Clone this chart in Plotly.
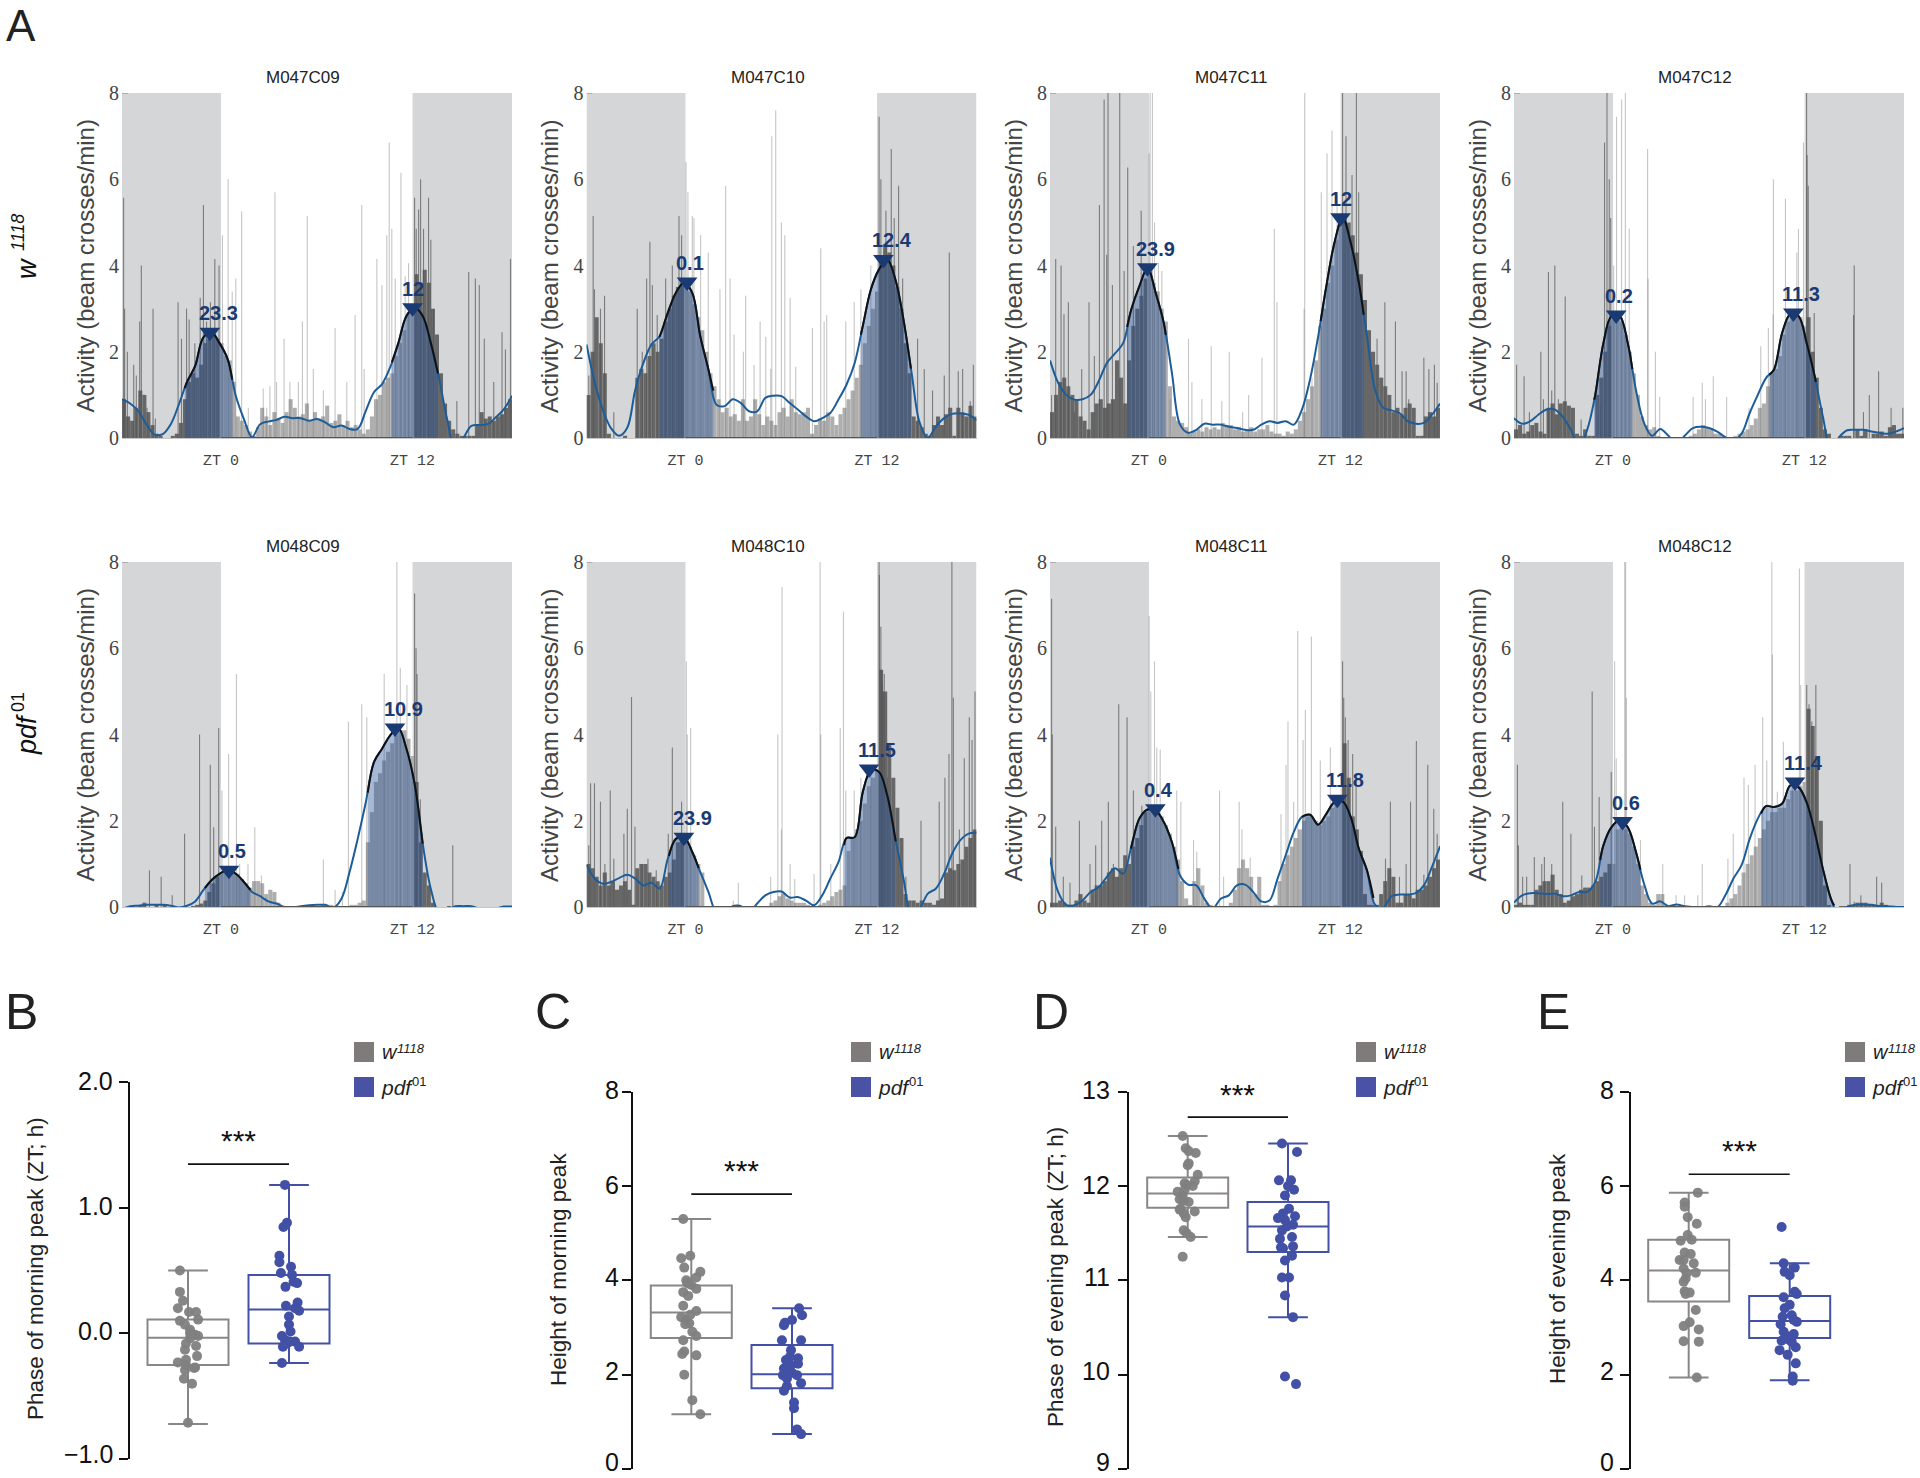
import plotly.graph_objects as go

# ---------- Panel A: activity panels ----------
panel_names = ["M047C09", "M047C10", "M047C11", "M047C12", "M048C09", "M048C10", "M048C11", "M048C12"]
peak_labels = [["23.3", "12"], ["0.1", "12.4"], ["23.9", "12"], ["0.2", "11.3"],
               ["0.5", "10.9"], ["23.9", "11.5"], ["0.4", "11.8"], ["0.6", "11.4"]]
peak_hours = [[-0.7, 12], [0.1, 12.4], [-0.1, 12], [0.2, 11.3], [0.5, 10.9], [-0.1, 11.5], [0.4, 11.8], [0.6, 11.4]]
peak_heights = [[2.45, 3.02], [3.62, 4.14], [3.95, 5.11], [2.85, 2.9], [0.85, 4.15], [1.62, 3.2], [2.28, 2.5], [1.98, 2.9]]
peak_windows = [[[-2.14, 0.78], [10.6, 13.44]], [[-1.54, 1.8], [10.88, 13.96]], [[-1.26, 1.12], [10.65, 13.3]],
                [[-1.07, 1.28], [9.7, 12.57]], [[-0.9, 1.9], [9.12, 12.5]], [[-0.93, 0.9], [9.85, 13.03]],
                [[-1.03, 1.9], [9.5, 13.9]], [[-0.7, 1.78], [9.2, 13.7]]]

hours = [h / 2 for h in range(-12, 37)]
mass_hours = [k / 4 + 0.125 for k in range(-24, 72)]
x_range = [-6.2, 18.23]

curves = [
 [.9,.8,.63,.32,.08,.09,.32,.78,1.3,1.67,2.33,2.45,2.2,1.83,.98,.44,.02,.32,.38,.42,.49,.46,.46,.4,.44,.36,.25,.29,.21,.21,.63,1.06,1.25,1.64,2.2,2.83,3.02,2.83,2.2,1.4,.44,-.25,0,.28,.3,.32,.48,.67,.98],
 [2.17,1.3,.66,.23,.05,.23,1.12,1.74,2.17,2.36,2.9,3.37,3.6,3.37,2.36,1.59,.77,.74,.9,.81,.62,.62,.93,.98,.97,.81,.66,.5,.39,.46,.58,.89,1.24,1.74,2.6,3.45,3.91,4.14,3.68,2.75,1.51,.35,0,.27,.46,.56,.57,.54,.41],
 [1.8,1.28,1,.89,.9,1,1.32,1.74,1.96,2.2,2.98,3.52,3.95,3.37,2.67,1.51,.31,.12,.19,.33,.31,.31,.26,.23,.19,.19,.31,.39,.35,.39,.31,.66,1.36,2.36,3.52,4.53,5.11,4.53,3.6,2.36,1.12,.7,.64,.58,.39,.33,.35,.54,.8],
 [.46,.33,.39,.54,.66,.66,.49,.19,-.2,.19,1,2.2,2.83,2.83,2.2,1.12,.35,.05,.21,.05,-.12,.05,.23,.26,.23,.15,.02,-.06,.1,.58,1,1.39,1.59,2.44,2.87,2.83,2.21,1.43,.5,-.27,.02,.18,.19,.19,.15,.12,.1,.15,.23],
 [-.05,.02,.03,.05,.05,.05,.03,-.01,.03,.13,.39,.62,.77,.85,.77,.58,.35,.25,.13,.08,0,-.01,.02,.04,.05,.05,-.02,.19,.81,1.58,2.43,3.36,3.67,3.98,4.15,3.67,2.86,1.47,.42,-.12,-.08,.02,.02,.02,-.04,-.08,-.04,.01,.01],
 [.98,.66,.54,.58,.67,.75,.66,.5,.56,.43,1.12,1.58,1.62,1.28,.81,.35,-.12,-.08,.02,.02,-.12,.08,.27,.35,.36,.22,.23,.15,.04,.27,.66,1.04,1.6,1.62,2.67,3.17,3.13,2.59,1.58,.66,-.19,-.04,.31,.43,.77,1.24,1.55,1.7,1.72],
 [1.14,.35,.05,.04,.15,.35,.46,.7,.9,.77,1.39,2.05,2.26,2.24,1.97,1.5,.73,.52,.5,.19,-.04,.19,.27,.5,.52,.35,.13,.15,.66,1.2,1.74,2.09,2.14,1.91,2.16,2.43,2.45,2.09,1.35,.85,.05,-.02,.25,.29,.29,.32,.5,.93,1.41],
 [.1,.27,.32,.32,.3,.31,.25,.27,.35,.35,.58,1.43,1.85,2.01,1.85,1.28,.54,.08,.13,.02,.06,.02,0,-.02,.02,-.01,.27,.66,.97,1.58,2.05,2.34,2.32,2.4,2.82,2.78,2.43,1.74,.89,.19,-.2,0,.05,.06,.05,.02,.02,0,0],
]

# dense activity per quarter hour, -6 h to 18 h
masses = [
 [.9,.5,.4,.7,1.1,1.0,.6,.3,.1,.05,0,0,.05,.1,.35,.9,1.3,1.5,1.4,1.7,2.2,2.3,2.4,2.3,
  2.2,1.9,1.8,1.3,.5,.4,.3,.15,.05,.25,.7,.5,.3,.6,.45,.35,.6,.9,.7,.5,.55,.8,.4,.6,.45,.5,.75,.35,.4,.55,.3,.4,.25,.3,.2,.1,.2,.5,.9,1.0,1.3,1.4,1.5,1.9,2.2,2.5,2.9,3.0,
  3.8,3.6,3.9,3.6,3.0,2.4,1.5,.8,.4,.2,.1,.05,.05,.05,.05,.3,.6,.45,.5,.4,.5,.55,.7,.9],
 [1.0,2.0,2.8,2.2,1.5,.1,0,0,0,.05,0,0,1.4,1.6,1.5,1.9,2.2,2.0,2.3,2.7,3.0,3.3,3.5,3.6,
  3.6,3.4,3.1,2.8,2.5,2.0,1.5,1.2,.9,.6,.7,.5,.55,.4,.9,.4,.5,.9,.55,.3,.5,.4,.3,.6,.7,.5,.9,.6,.55,.6,.7,.1,.3,.45,.4,.6,.5,.3,.55,.7,.9,1.1,1.4,1.7,2.2,2.6,3.0,3.4,
  4.2,4.5,4.3,4.0,3.5,3.0,2.2,1.5,.5,.4,.25,.1,.05,.3,.5,.3,.55,.7,.05,.7,.6,.5,.75,.5],
 [.6,1.0,1.3,1.4,1.2,1.0,.9,.5,.4,.2,.6,.8,.9,.7,.8,.9,1.8,1.4,.8,1.8,2.6,3.0,3.3,3.7,
  3.9,3.6,3.4,3.0,2.7,1.2,.5,.4,.35,.25,.1,.15,.2,.15,.25,.2,.25,.2,.35,.3,.3,.2,.25,.15,.2,.25,.15,.2,.2,.3,.15,.1,.1,.05,.15,.1,.2,.4,.6,.9,1.2,1.8,2.6,3,3.6,4.0,4.6,5,
  5.2,5.0,4.7,4.3,3.8,3.2,2.5,2.0,1.7,1.4,1.2,1.0,.6,.7,.55,.7,.8,.7,.05,.05,.5,.6,.5,.7],
 [.2,.3,.1,.15,.3,.35,.15,.1,.7,.8,.55,.8,.85,.75,.7,.1,.05,.2,.05,.05,1,1.4,2,2.6,
  2.85,2.8,2.7,2.4,2.0,1.5,1,.5,.3,.2,.25,.05,0,0,0,0,0,0,0,.05,.1,.2,.3,.25,.2,.1,.1,.05,0,0,.05,.1,.15,.2,.3,.45,.7,.8,1.2,1.5,1.6,1.9,2.4,2.7,2.9,2.9,2.8,2.6,
  2.8,2.0,1.4,.7,.2,.1,0,0,.05,.05,.05,0,.2,.05,.2,0,.1,.1,.15,.05,.25,.3,.1,.1],
 [0,0,.02,0,.02,.1,0,0,.05,0,.05,0,0,0,0,0,0,.02,.05,.08,.15,.35,.55,.7,
  .8,.85,.85,.8,.77,.65,.55,.45,.6,.6,.55,.3,.4,.35,.1,.02,0,0,0,0,0,0,0,0,.02,.05,.05,.05,.02,.02,0,.02,.05,.05,.1,.15,1.5,2.2,2.9,3.1,3.4,3.6,3.8,4,4.1,4.1,3.9,3.5,
  2.9,1.5,.8,.5,.1,0,0,0,.02,0,0,0,0,0,0,0,0,0,0,0,0,0,0,0],
 [1,.9,.7,.5,.8,.5,.6,.4,.5,.6,.4,.05,.9,1.0,1.0,.8,.7,.6,.5,.7,.8,1.1,1.5,1.6,
  1.6,1.4,1.2,1.0,.8,0,0,0,0,0,0,0,.05,.05,0,0,0,0,0,0,.02,.1,.15,.25,.3,.2,.15,.1,.1,.1,.05,.02,.02,.05,.1,.15,.25,.35,.4,.5,1.3,1.6,1.8,2.0,2.4,2.8,3.0,3.2,
  5.5,5,3.8,3,2.3,1.6,.3,.15,.15,.1,.15,.1,.1,.05,.15,.2,.8,.9,.85,1.0,1.1,1.4,1.6,1.8],
 [.1,.1,.15,.1,.05,.05,.15,.3,.15,.1,.4,.5,.5,.6,.8,.9,.7,.9,1.2,1.0,1.4,1.6,1.9,2.2,
  2.3,2.25,2.2,2.1,1.9,1.7,1.4,1.1,.6,.2,.05,.6,.9,.5,.1,.05,0,0,0,0,.1,.4,.9,1.1,.9,.7,.3,.7,.05,.05,.02,.05,.6,1.0,1.2,1.4,1.6,1.8,2,2.1,2.1,2,1.9,2,2.1,2.3,2.4,2.5,
  3.8,3,2.1,1.8,1.3,.3,.05,.05,.05,.3,.6,.9,.7,.1,.1,.3,.3,.2,.4,.4,.5,.7,.9,1.1],
 [.05,.1,.05,.05,.05,.4,.5,.6,.6,.75,.4,.3,.1,.15,.25,.3,.4,.45,.45,.5,.6,.7,.8,1.0,
  1.0,1.8,1.9,1.8,1.7,1.4,1,.5,.3,.1,.05,.3,.3,.05,.02,.02,.02,.02,.02,.02,.02,.02,.02,.02,0,0,0,0,.1,.2,.3,.5,.8,1,1.2,1.4,1.6,1.8,2,2.2,2.2,2.3,2.3,2.5,2.7,2.7,2.8,2.9,
  4.6,4.2,3.5,2.0,.5,.03,0,0,.02,.02,.05,.05,.1,.1,.1,.05,.05,.05,.1,.05,.02,.02,.02,.02],
]

spike_hours = [
 [-5.9,-5.84,-5.67,-5.28,-5.12,-4.91,-4.81,-4.46,-4.09,-3.95,-2.55,-2.34,-2.03,-1.87,-1.52,-1.19,-.99,-.8,-.56,-.29,-.03,.18,.53,.78,1,1.36,1.77,2.69,2.9,3.1,3.41,3.51,3.97,4.33,4.85,5.1,5.4,5.77,6.39,7.11,7.83,8.34,8.75,8.9,9.68,9.99,10.29,10.44,10.6,10.81,11.16,11.42,11.63,12,12.1,12.25,12.37,12.55,12.86,13,13.17,14.6,15.33,15.74,15.98,16.29,16.87,17.38,17.59,17.9],
 [-5.86,-5.59,-5.51,-5.14,-4.89,-4.32,-2.88,-2.57,-2.3,-2.1,-1.95,-1.65,-1.13,-.72,-.31,-.15,.12,.24,.51,.61,1.02,1.49,2.21,2.56,2.83,3.08,3.79,3.65,4.31,4.68,5.03,5.33,5.4,5.64,5.99,6.2,6.53,6.87,7.9,8.41,8.62,8.78,9.95,10.47,10.88,11.49,11.8,12,12.11,12.42,12.75,12.93,13.2,13.45,14.37,14.78,15.29,16.01,16.32,16.87,17.14,17.61,17.8],
 [-5.9,-5.65,-5.32,-5.14,-4.87,-4.5,-4.05,-3.6,-3.27,-2.96,-2.67,-2.51,-2.43,-2.16,-1.71,-1.44,-1.22,-.87,-.39,-.35,.1,.16,.3,.43,.67,.88,1.39,2.52,2.73,3.34,3.92,4.57,5.03,5.85,6.22,7.04,7.8,7.96,9.67,9.63,10.12,10.69,11.04,11.35,11.66,12,12.21,12.58,12.85,12.99,14.6,14.12,15.25,15.66,15.91,16.07,17,17.31,17.65,17.82],
 [-5.84,-5.38,-5.05,-4.35,-4.19,-3.88,-3.68,-3.49,-3.27,-2.85,-1.87,-.69,-.43,-.28,-.14,-.05,.13,.31,.62,.85,1.09,2.22,2.25,2.7,2.96,5.02,5.58,5.78,6.26,7.08,8.46,9.18,9.65,9.96,9.94,10.7,11.4,11.5,11.81,12,12.03,12.1,12.47,14.93,14.89,15.5,15.86,16.43,17.2,17.92],
 [-4.31,-3.59,-2.91,-2.15,-1.23,-.57,-.36,-.05,.15,.56,1.04,1.24,1.75,2.17,2.58,6.39,7.11,7.56,7.93,8.75,9.06,10.13,10.91,11.12,11.53,12,12.09,12.15,12.35,14.35],
 [-5.86,-5.75,-5.51,-5.14,-4.87,-4.54,-4.32,-3.7,-3.49,-3.23,-3.02,-2.57,-2.22,-1.71,-.97,-.72,-.15,.14,.2,.41,3.03,3.34,5.33,5.77,5.99,6.03,6.53,6.81,8,8.37,8.41,9.03,9.61,9.81,9.95,10.47,10.88,11.49,12,12.02,12.11,12.15,12.2,12.25,12.32,12.52,13.24,13.65,14.58,15.7,16.05,16.3,16.48,16.57,16.94,17.24,17.55,17.72,17.9],
 [-5.9,-5.86,-5.65,-5.18,-4.77,-4.19,-3.54,-3.19,-2.82,-2.41,-2.1,-1.77,-1.26,-.87,-.35,.1,.2,.43,.57,.78,1.8,2.05,2.83,3.03,4.43,4.68,5.64,5.81,6.32,8.21,8.52,8.64,8.99,9.24,9.57,9.71,10.08,10.63,11.25,12,12.07,12.17,12.34,12.62,12.83,14.64,14.94,15.5,15.91,16.18,16.54,17,17.24,17.61,17.82],
 [-5.79,-5.73,-5.47,-5.22,-4.75,-4.29,-4.13,-3.68,-3,-2.5,-1.83,-1.19,-1.05,-.76,.19,.29,-.02,.81,.87,.91,1.78,3.15,3.97,4.49,5.31,5.58,7.16,7.49,8.15,8.42,8.83,9.3,9.55,9.86,9.9,10.2,10.57,11.13,11.56,11.64,12.01,12.15,12.32,12.57,14.67,14.93,15.34,16.31,16.62],
]
spike_values = [
 [5.57,3,2,1.7,1.45,2.7,4,.7,3,.45,3.15,2.3,3,2.75,2.2,3.25,5.4,2.7,3.15,4.15,4,4.7,6,3.4,3.7,5.25,.7,1.15,.7,1.2,5.7,1.3,2.3,1.3,1.3,2.7,5.15,1.6,1.1,2.55,1.3,2.85,5.4,1.6,4.15,3.55,4.7,6.85,4.85,3.7,6.15,3.75,4.05,5.57,4.85,5.3,6,4.85,5.57,4.6,3,.86,3.85,3.7,3.55,2.3,1.3,2.45,2.05,4.15],
 [1.45,5.15,3.45,3,3.3,.6,3,2,3.7,4.55,3.55,2.85,3.7,4,5.15,4.7,6.4,5.7,5.15,5.1,4.7,4.3,3.45,5.85,3.7,2.4,3.3,2,1.7,2.7,2.35,1.6,7,7.6,5,4.7,3.25,1.65,2.55,4.4,2.7,2.85,2.7,3.15,3.45,4,3.4,7.45,6,5.27,6.7,5.1,5.85,3.7,2.3,1.6,1.1,1.45,4.3,1.55,1.6,.85,1.7],
 [1,4.15,4,2.87,3.15,.6,1.6,3.15,1.9,5.4,7.85,4.25,8,3.55,8,3.87,6.27,4.45,5.27,3.7,6.6,8,8,5,4.07,3.87,.9,2.3,1.3,.9,2.13,.85,2,.6,1,1.86,4.85,3.15,8,3,1.4,5.7,6.6,7.13,5.6,8,7,6.1,8,5.7,3.15,2.3,2.7,1.55,1.55,.9,1.86,1.6,1.7,1.28],
 [1.7,1.43,.6,2,.9,3.85,1.1,4,.9,3.28,.43,.75,6.85,8,6,5.1,4,7.45,7.85,8,4.85,6.7,3.7,2,.95,.95,1.28,.9,1.43,.95,.7,2.13,2.55,6,2.87,5.55,4.3,4.85,6.85,8,6.56,5.85,2.9,4,2.85,.6,1,1.55,.7,.7],
 [.85,.7,.27,1.7,4,3.3,1.85,4.15,2.7,3.55,5.4,1,1,1.85,.73,1.1,.4,.35,4.3,4.7,4.4,5.4,8,5.55,5.15,7.27,6,5.4,2.5,1.43],
 [1.43,2.87,2.87,2.44,1,2.7,1.12,1.7,2.28,4.87,1.86,1,1.12,.85,1.7,3.7,2.44,5.7,4,4.15,.15,.56,.7,4,1.8,7.42,1,.65,.77,8,4,1,4.15,6.85,2.7,2.7,3,3.2,8,7.7,6.5,5.5,5.2,5,5.4,3,1.05,.7,2,2.44,3,3.55,8,4.85,1.8,3.45,4.4,3.87,5],
 [7.15,4,1.86,.7,.56,2,1,1.43,2,2.44,1,4.7,4.4,2.7,2.35,6.75,5,5.7,3.7,3.65,2.7,2.44,1.55,1.28,2.7,.7,2.44,1.8,1.15,2.15,3.3,4.3,2.44,6.4,3.87,4.57,6.27,3.4,3.7,5.7,4.85,4.4,3.87,3.55,3,1.12,2.44,.7,1,2.44,3.85,.75,3.3,2.28,1.7],
 [3.3,1.43,.7,.7,1.16,1,1.16,1,2.44,1.7,.73,5,1.86,2.55,5.7,3.45,3.13,8,8,4.85,1.55,1,.27,.27,.27,1,1.12,1.7,3,2.83,3.3,4.4,3.4,8,5.85,2.67,3.83,3,7.85,5.15,5.15,4.7,4.3,5.15,1,.12,.27,.7,.56],
]

panel_lefts = [122, 586.5, 1050, 1514, 122, 586.5, 1050, 1514]
panel_tops = [93, 93, 93, 93, 562, 562, 562, 562]
panel_w, panel_h = 390, 345

# ---------- Panels B-E: box plots ----------
box_letters = ["B", "C", "D", "E"]
box_titles = ["Phase of morning peak (ZT; h)", "Height of morning peak", "Phase of evening peak (ZT; h)", "Height of evening peak"]
box_ranges = [[-1, 2], [0, 8], [9, 13], [0, 8]]
box_ticks = [[-1, 0, 1, 2], [0, 2, 4, 6, 8], [9, 10, 11, 12, 13], [0, 2, 4, 6, 8]]
box_ticktext = [["−1.0", "0.0", "1.0", "2.0"], ["0", "2", "4", "6", "8"], ["9", "10", "11", "12", "13"], ["0", "2", "4", "6", "8"]]
# the printed labels sit slightly above their ticks, more so lower down
box_tick_label_y = [[1454.3, 1330.7, 1205.7, 1081.3], [1462.3, 1370.7, 1277.3, 1185, 1090.3],
                    [1462.3, 1370.7, 1277.3, 1185, 1090.3], [1462.3, 1370.7, 1277.3, 1185, 1090.3]]
box_tick_label_gap = [15, 12.3, 17.6, 14.7]

# q1, median, q3, lower whisker, upper whisker
w_stats = [[-.25, -.035, .11, -.72, .50], [2.78, 3.32, 3.89, 1.16, 5.3], [11.77, 11.92, 12.09, 11.46, 12.53], [3.55, 4.21, 4.86, 1.94, 5.86]]
p_stats = [[-.08, .19, .465, -.235, 1.18], [1.71, 2.01, 2.63, .74, 3.41], [11.30, 11.57, 11.83, 10.61, 12.45], [2.78, 3.14, 3.67, 1.88, 4.36]]

w_points = [
 [.50,.33,.26,.20,.17,.17,.11,.10,.07,.03,-.02,-.01,-.04,-.08,-.10,-.13,-.18,-.21,-.23,-.27,-.29,-.36,-.40,-.71,0,-.25,-.275,0],
 [5.3,4.52,4.47,4.27,4.18,4.06,4,3.9,3.82,3.75,3.67,3.46,3.35,3.27,3.22,3.16,3.09,3.07,2.91,2.82,2.73,2.49,2.44,2.41,2,1.46,1.16,3.94],
 [12.53,12.40,12.37,12.35,12.24,12.22,12.12,12.05,12.03,12,12.01,11.94,11.90,11.86,11.85,11.83,11.75,11.73,11.71,11.67,11.53,11.5,11.46,11.25,11.76,11.96],
 [5.86,5.65,5.56,5.34,5.2,4.96,4.84,4.86,4.59,4.56,4.43,4.43,4.36,4.25,4.16,4.15,4.04,3.97,3.77,3.74,3.71,3.37,3.11,3.03,2.96,2.71,2.7,1.94],
]
w_jitter = [
 [-.08,-.08,-.05,-.10,.01,.08,.10,-.08,-.03,.02,.10,.07,.02,-.02,.08,-.03,.09,-.02,-.10,.07,-.03,-.04,.04,0,.03,-.02,.06,.02],
 [-.08,-.01,-.10,-.07,.09,.05,-.05,0,.05,-.08,-.03,-.08,.05,-.01,-.10,-.05,-.02,-.06,.01,.05,-.08,-.07,-.09,.05,-.07,.01,.09,-.04],
 [-.05,-.02,.01,.08,.01,0,.10,.07,-.03,.05,-.01,-.10,-.05,-.08,-.04,.01,-.08,.07,-.04,-.02,-.04,-.01,.03,-.05,-.07,-.03],
 [.09,-.04,-.04,-.01,.08,-.01,-.08,.03,-.04,.02,-.09,-.05,.05,-.05,.07,-.02,-.03,-.05,-.04,.01,-.03,.07,.01,-.05,.10,-.05,.10,.08],
]
p_points = [
 [1.18,.88,.845,.617,.565,.53,.48,.465,.41,.40,.37,.245,.22,.20,.18,.135,.07,.016,-.02,-.05,-.065,-.105,-.105,-.235,-.08,-.065],
 [3.41,3.26,3.16,3.1,3.05,2.73,2.73,2.52,2.35,2.31,2.38,2.23,2.13,2.04,1.99,1.99,1.82,1.76,1.66,1.41,1.29,.84,.74,2.2,1.92,2.13],
 [12.45,12.36,12.06,12.06,12,11.96,11.9,11.76,11.71,11.68,11.66,11.64,11.59,11.53,11.57,11.44,11.46,11.35,11.36,11.26,11.21,11.03,11.03,10.84,10.61,9.98,9.90,11.34],
 [5.13,4.36,4.27,4.18,4.11,3.76,3.64,3.71,3.48,3.41,3.23,3.26,3.12,3.07,3.16,2.91,2.86,2.72,2.73,2.81,2.58,2.52,2.42,2.24,1.96,1.87,2.7],
]
p_jitter = [
 [-.04,-.02,-.055,-.095,-.095,.02,-.08,.03,.045,.08,-.035,.085,-.03,.06,.10,0,0,.015,-.07,-.04,.06,-.06,.10,-.07,-.02,.01],
 [.07,.10,0,-.07,-.08,-.10,.09,-.01,.06,-.06,-.02,.06,-.08,0,-.09,.05,.09,-.05,-.08,.02,.02,.05,.09,-.01,-.05,-.05],
 [-.06,.09,-.09,.03,0,.06,-.03,.01,-.05,.07,-.10,-.03,.05,-.06,-.01,-.08,.04,-.07,.05,.04,-.03,-.06,.01,-.03,.05,-.03,.08,-.05],
 [-.08,-.06,.05,-.05,0,.05,-.06,.07,0,-.05,-.07,.02,.07,-.09,.04,-.06,.04,-.08,0,-.02,.06,-.10,-.02,.06,.03,.03,.02],
]
sig_levels = [1.345, 5.83, 12.73, 6.25]
star_levels = [1.53, 6.32, 12.97, 6.75]

box_spines = [130, 633, 1129.3, 1630.7]
box_c1 = [188, 691.3, 1187.7, 1688.7]
box_c2 = [289, 792, 1288, 1789.7]
box_top = [1081.7, 1091.7, 1091.7, 1091.7]
box_bottom = [1459.3, 1469, 1469, 1469]
legend_x = [354, 851, 1356, 1845]
box_title_x = [35, 558, 1055, 1557]
box_title_y = [1269, 1270, 1277, 1269]
letter_x = [21, 553, 1051, 1553]

# ---------- Style ----------
W, H = 1920, 1478
NAVY = "#1a3a73"
LINE_BLUE = "#1c5d99"
GREY_BOX = "#8a8686"
GREY_PT = "#7f7f7f"
BLUE_BOX = "#4250a5"
BLUE_PT = "#4250a5"
SANS = "Liberation Sans"


def px(x):
    return x / W


def py(y):
    return 1 - y / H


def cal(h):
    return (h + 6) * 1.0182 - 6.2


fig = go.Figure()
annotations = []
shapes = []


def label(x, y, text, size, color="#222222", font=SANS, angle=0, style="normal", anchor="center"):
    annotations.append(dict(x=px(x), y=py(y), xref="paper", yref="paper", text=text, showarrow=False,
                            xanchor=anchor, yanchor="middle", textangle=angle,
                            font=dict(size=size, color=color, family=font, style=style)))


layout_axes = {}
for i, name in enumerate(panel_names):
    n = i + 1
    xk, yk = f"x{n}", f"y{n}"
    left, top = panel_lefts[i], panel_tops[i]
    layout_axes[f"xaxis{n}"] = dict(domain=[px(left), px(left + panel_w)], range=x_range, anchor=yk,
                                    tickvals=[0, 12], ticktext=["ZT 0", "ZT 12"], ticks="", showgrid=False,
                                    zeroline=False, showline=True, linecolor="#c8c8c8", linewidth=1,
                                    tickfont=dict(family="Liberation Mono", size=15, color="#444444"),
                                    ticklabelstandoff=8)
    layout_axes[f"yaxis{n}"] = dict(domain=[py(top + panel_h), py(top)], range=[0, 8], anchor=xk,
                                    tickvals=[0, 2, 4, 6, 8], ticks="", showgrid=False, zeroline=False,
                                    showline=False, ticklabelstandoff=2,
                                    tickfont=dict(family="Liberation Serif", size=20, color="#444444"))
    for a, b in [(x_range[0], 0), (12, x_range[1])]:
        shapes.append(dict(type="rect", xref=xk, yref=yk, x0=a, x1=b, y0=0, y1=8, layer="below",
                           fillcolor="#d5d6d8", line_width=0))
    shapes.append(dict(type="line", xref=xk, yref=yk, x0=0, x1=12, y0=0, y1=0, layer="above",
                       line=dict(color="#555555", width=2)))
    shapes.append(dict(type="line", xref=xk, yref=yk, x0=x_range[0], x1=x_range[0] + 0.37, y0=8, y1=8, layer="above",
                       line=dict(color="#888888", width=1)))

    # dense activity per quarter hour, dark and light phase
    m = masses[i]
    mx = [cal(h) for h in mass_hours]
    fig.add_trace(go.Bar(x=[h for h in mx if h < 0 or h >= 12.05],
                         y=[v for h, v in zip(mx, m) if h < 0 or h >= 12.05],
                         width=0.255, xaxis=xk, yaxis=yk, marker=dict(color="#676767", line_width=0)))
    fig.add_trace(go.Bar(x=[h for h in mx if 0 <= h < 12.05],
                         y=[v for h, v in zip(mx, m) if 0 <= h < 12.05],
                         width=0.255, xaxis=xk, yaxis=yk, marker=dict(color="#aeaeae", line_width=0)))

    # single-minute spikes
    sh, sv = [cal(h) for h in spike_hours[i]], spike_values[i]
    dark_x = [h for h in sh if h < 0 or h >= 12]
    dark_y = [v for h, v in zip(sh, sv) if h < 0 or h >= 12]
    light_x = [h for h in sh if 0 <= h < 12]
    light_y = [v for h, v in zip(sh, sv) if 0 <= h < 12]
    fig.add_trace(go.Bar(x=dark_x, y=dark_y, width=0.07, xaxis=xk, yaxis=yk,
                         marker=dict(color="rgba(85,85,85,0.7)", line_width=0)))
    fig.add_trace(go.Bar(x=light_x, y=light_y, width=0.07, xaxis=xk, yaxis=yk,
                         marker=dict(color="rgba(120,120,120,0.42)", line_width=0)))

    # fitted curve with the peak windows
    c = curves[i]

    def at(t):
        k = int((t + 6) * 2)
        return c[k] + (c[k + 1] - c[k]) * ((t + 6) * 2 - k)

    segments = []
    for w0, w1 in peak_windows[i]:
        seg = [k for k, h in enumerate(hours) if w0 < h < w1]
        segments.append(([cal(w0)] + [cal(hours[k]) for k in seg] + [cal(w1)],
                         [at(w0)] + [c[k] for k in seg] + [at(w1)]))
    for sx, sy in segments:
        fig.add_trace(go.Scatter(x=sx, y=sy, xaxis=xk, yaxis=yk, mode="lines", fill="tozeroy",
                                 fillcolor="rgba(45,85,155,0.42)", line=dict(width=0, shape="spline"),
                                 hoverinfo="skip"))
    fig.add_trace(go.Scatter(x=[cal(h) for h in hours], y=c, xaxis=xk, yaxis=yk, mode="lines",
                             line=dict(color=LINE_BLUE, width=2, shape="spline")))
    for sx, sy in segments:
        fig.add_trace(go.Scatter(x=sx, y=sy, xaxis=xk, yaxis=yk, mode="lines",
                                 line=dict(color="#111111", width=2, shape="spline")))

    # peak markers and labels
    fig.add_trace(go.Scatter(x=peak_hours[i], y=peak_heights[i], xaxis=xk, yaxis=yk, mode="markers",
                             marker=dict(symbol="triangle-down", size=18, color=NAVY, line_width=0)))
    for h, v, t in zip(peak_hours[i], peak_heights[i], peak_labels[i]):
        annotations.append(dict(x=h, y=v, xref=xk, yref=yk, text=t, showarrow=False,
                                xanchor="left", yanchor="bottom", xshift=-13, yshift=6,
                                font=dict(size=20, color=NAVY, family=SANS, weight=700)))

    label(left + 181, top - 16 if top < 100 else top - 15, name, 17, "#222222")
    label(left - 37, top + panel_h / 2 + 1, "Activity (beam crosses/min)", 24, "#444444", angle=-90)

# row labels and panel A letter
label(27, 269, "w", 27, "#111111", angle=-90, style="italic")
label(18, 233, "1118", 18, "#111111", angle=-90, style="italic")
label(27, 735, "pdf", 27, "#111111", angle=-90, style="italic")
label(18, 702, "01", 18, "#111111", angle=-90)
label(21, 25.5, "A", 44, "#222222")

# ---------- Box panels ----------
for j in range(4):
    n = 9 + j
    xk, yk = f"x{n}", f"y{n}"
    spine = box_spines[j]
    s = box_c2[j] - box_c1[j]
    x_lo = 1 - (box_c1[j] - spine) / s
    x_hi = 1 + (spine + 260 - box_c1[j]) / s
    layout_axes[f"xaxis{n}"] = dict(domain=[px(spine), px(spine + 260)], range=[x_lo, x_hi], anchor=yk, visible=False)
    layout_axes[f"yaxis{n}"] = dict(domain=[py(box_bottom[j]), py(box_top[j])], range=box_ranges[j], anchor=xk,
                                    tickvals=box_ticks[j], showticklabels=False, ticks="outside", ticklen=9,
                                    tickwidth=1.7, tickcolor="#111111", showline=True, linecolor="#111111",
                                    linewidth=1.7, showgrid=False, zeroline=False)
    for t, ty in zip(box_ticktext[j], box_tick_label_y[j]):
        label(spine - box_tick_label_gap[j], ty, t, 25, "#111111", anchor="right")
    for pos, st, col in [(1, w_stats[j], GREY_BOX), (2, p_stats[j], BLUE_BOX)]:
        fig.add_trace(go.Box(x=[pos], q1=[st[0]], median=[st[1]], q3=[st[2]], lowerfence=[st[3]], upperfence=[st[4]],
                             orientation="v", xaxis=xk, yaxis=yk, boxpoints=False, width=81 / s, whiskerwidth=0.49,
                             fillcolor="rgba(0,0,0,0)", line=dict(color=col, width=2)))
    fig.add_trace(go.Scatter(x=[1 + d for d in w_jitter[j]], y=w_points[j], xaxis=xk, yaxis=yk, mode="markers",
                             marker=dict(size=10, color=GREY_PT, opacity=0.95, line_width=0)))
    fig.add_trace(go.Scatter(x=[2 + d for d in p_jitter[j]], y=p_points[j], xaxis=xk, yaxis=yk, mode="markers",
                             marker=dict(size=10, color=BLUE_PT, line_width=0)))
    fig.add_trace(go.Scatter(x=[1, 2], y=[sig_levels[j]] * 2, xaxis=xk, yaxis=yk, mode="lines",
                             line=dict(color="#111111", width=1.7)))
    annotations.append(dict(x=1.5, y=star_levels[j], xref=xk, yref=yk, text="***", showarrow=False,
                            font=dict(size=30, color="#111111", family=SANS)))
    label(box_title_x[j], box_title_y[j], box_titles[j], 22.5, "#222222", angle=-90)
    label(letter_x[j], 1012, box_letters[j], 50, "#222222")
    lx = legend_x[j]
    for y0, col in [(1042, "#7f7b7b"), (1077, "#4a52a6")]:
        shapes.append(dict(type="rect", xref="paper", yref="paper", x0=px(lx), x1=px(lx + 20), y0=py(y0 + 20), y1=py(y0),
                           fillcolor=col, line_width=0))
    label(lx + 26, 1052, "w", 20, "#222222", style="italic", anchor="left")
    label(lx + 41, 1048, "1118", 13, "#222222", style="italic", anchor="left")
    label(lx + 25, 1087, "pdf", 21, "#222222", style="italic", anchor="left")
    label(lx + 56, 1081, "01", 13, "#222222", anchor="left")

fig.update_layout(width=W, height=H, margin=dict(l=0, r=0, t=0, b=0, autoexpand=False), paper_bgcolor="white",
                  plot_bgcolor="rgba(0,0,0,0)", showlegend=False, barmode="overlay", boxmode="overlay",
                  annotations=annotations, shapes=shapes, **layout_axes)
fig.write_html("out.html", config={"displayModeBar": False}, post_script="document.body.style.margin='0';")
